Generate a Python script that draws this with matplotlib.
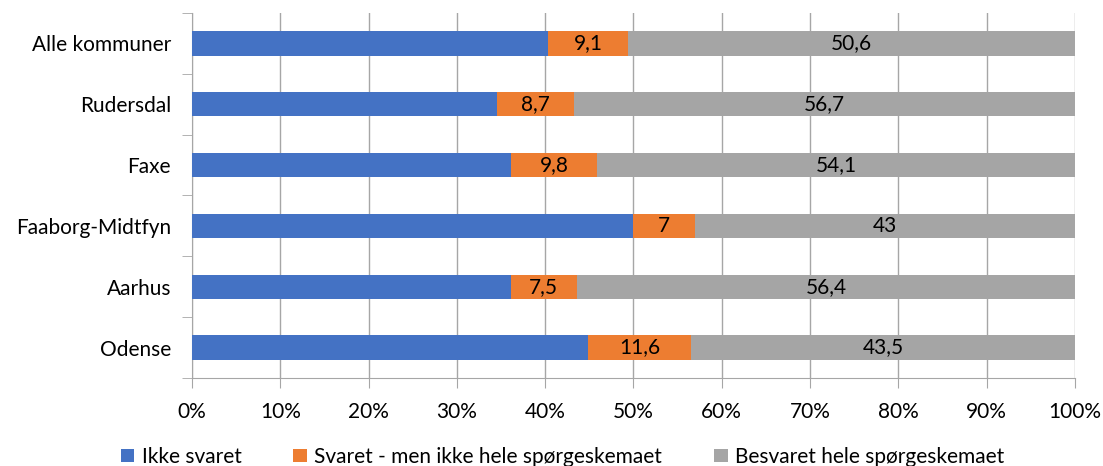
import matplotlib.pyplot as plt
import numpy as np

plt.rcParams['font.family'] = ['Lato', 'DejaVu Sans']

categories = ["Alle kommuner", "Rudersdal", "Faxe", "Faaborg-Midtfyn", "Aarhus", "Odense"]
ikke_svaret = [40.3, 34.6, 36.1, 50.0, 36.1, 44.9]
svaret_delvis = [9.1, 8.7, 9.8, 7.0, 7.5, 11.6]
besvaret_hele = [50.6, 56.7, 54.1, 43.0, 56.4, 43.5]
delvis_labels = ["9,1", "8,7", "9,8", "7", "7,5", "11,6"]
hele_labels = ["50,6", "56,7", "54,1", "43", "56,4", "43,5"]
series_names = ["Ikke svaret", "Svaret - men ikke hele spørgeskemaet", "Besvaret hele spørgeskemaet"]
colors = ["#4472C4", "#ED7D31", "#A5A5A5"]

fs = 15

fig = plt.figure(figsize=(11.03, 4.66), dpi=100)
ax = fig.add_axes([0.174, 0.189, 0.8006, 0.783])

y = np.arange(len(categories))[::-1]
h = 0.4
b1 = ax.barh(y, ikke_svaret, height=h, color=colors[0], label=series_names[0], zorder=3)
left2 = np.array(ikke_svaret)
b2 = ax.barh(y, svaret_delvis, left=left2, height=h, color=colors[1], label=series_names[1], zorder=3)
left3 = left2 + np.array(svaret_delvis)
b3 = ax.barh(y, besvaret_hele, left=left3, height=h, color=colors[2], label=series_names[2], zorder=3)

for i in range(len(categories)):
    ax.text(left2[i] + svaret_delvis[i] / 2, y[i], delvis_labels[i], ha='center', va='center', fontsize=fs, zorder=4)
    ax.text(left3[i] + besvaret_hele[i] / 2, y[i], hele_labels[i], ha='center', va='center', fontsize=fs, zorder=4)

ax.set_xlim(0, 100)
ax.set_ylim(-0.5, len(categories) - 0.5)
ax.set_xticks(np.arange(0, 101, 10))
ax.set_xticklabels([f"{v}%" for v in range(0, 101, 10)], fontsize=fs)
ax.set_yticks(y)
ax.set_yticklabels(categories, fontsize=fs)
ax.set_yticks(np.arange(-0.5, len(categories), 1), minor=True)
ax.tick_params(axis='y', which='major', length=0, pad=15)
ax.tick_params(axis='y', which='minor', length=7, color='#A6A6A6')
ax.tick_params(axis='x', length=7, color='#A6A6A6', pad=10)
ax.grid(axis='x', color='#A6A6A6', linewidth=1, zorder=0)
for s in ['top', 'right']:
    ax.spines[s].set_visible(False)
ax.spines['left'].set_color('#A6A6A6')
ax.spines['bottom'].set_color('#A6A6A6')

fig.legend(handles=[b1, b2, b3], loc='lower center', ncol=3, frameon=False, fontsize=fs,
           bbox_to_anchor=(0.51, -0.042), handlelength=0.65, handleheight=0.65,
           handletextpad=0.35, columnspacing=2.5)

fig.savefig("out.png", dpi=100)
